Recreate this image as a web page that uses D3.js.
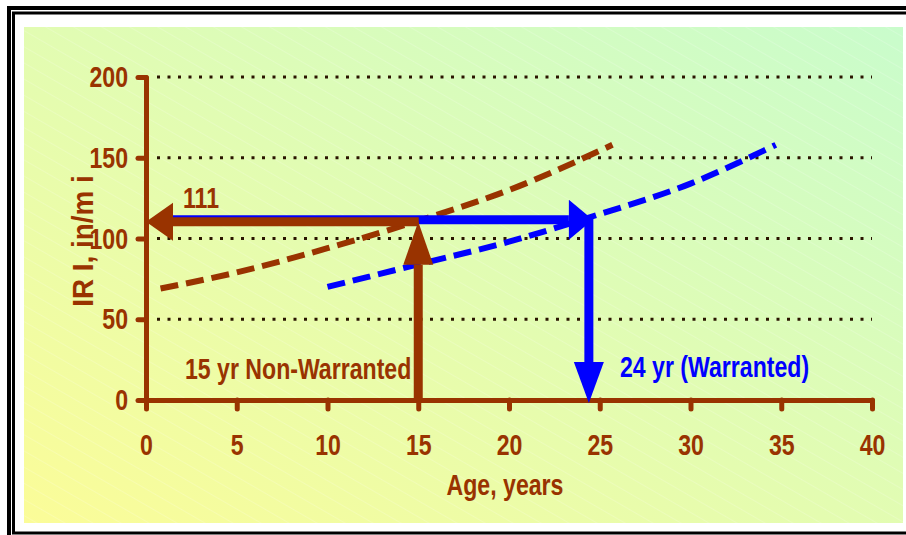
<!DOCTYPE html>
<html lang="en">
<head>
<meta charset="utf-8">
<title>IRI vs Age</title>
<script src="https://d3js.org/d3.v7.min.js"></script>
<style>
  body { margin: 0; background: #fff; }
  text { font-family: "Liberation Sans", Arial, sans-serif; font-weight: bold; }
</style>
</head>
<body>
<div id="chart"></div>
<script>
// chart values
var ageTicks = [0, 5, 10, 15, 20, 25, 30, 35, 40];
var iriTicks = [0, 50, 100, 150, 200];
var gridTicks = [50, 100, 150, 200];
var nonWarrAge = [0.8, 5, 10, 15, 20, 25.7];
var nonWarrIri = [69, 79, 94, 111, 130, 158];
var warrAge = [10, 15, 20, 24.4, 30, 34.7];
var warrIri = [70, 84, 98, 113, 134, 158];
var iriTrigger = 111;
var nonWarrLife = 15;
var warrLife = 24.4;

var W = 906, H = 535;
var brown = "#993300", blue = "#0000ff";
var fs = 30;
var narrow = 0.77;   // no narrow face installed, so squeeze horizontally

var svg = d3.select("#chart").append("svg")
  .attr("width", W).attr("height", H);

var defs = svg.append("defs");
var grad = defs.append("linearGradient").attr("id", "bg")
  .attr("x1", "0").attr("y1", "1").attr("x2", "1").attr("y2", "0");
grad.append("stop").attr("offset", "0").attr("stop-color", "#fbfc98");
grad.append("stop").attr("offset", "1").attr("stop-color", "#c9fccc");

// faint diagonal texture
var pat = defs.append("pattern").attr("id", "hatch")
  .attr("width", 14).attr("height", 14)
  .attr("patternUnits", "userSpaceOnUse")
  .attr("patternTransform", "rotate(30)");
pat.append("line").attr("x1", 0).attr("y1", 0).attr("x2", 14).attr("y2", 0)
  .attr("stroke", "#fff").attr("stroke-width", 1).attr("opacity", 0.35);

// frame
svg.append("rect").attr("x", 9).attr("y", 8).attr("width", 940).attr("height", 560)
  .attr("fill", "none").attr("stroke", "#000").attr("stroke-width", 4);
svg.append("rect").attr("x", 13.5).attr("y", 13).attr("width", 930).attr("height", 520)
  .attr("fill", "none").attr("stroke", "#000").attr("stroke-width", 3);
svg.append("rect").attr("x", 24).attr("y", 27).attr("width", 879).attr("height", 496)
  .attr("fill", "url(#bg)");
svg.append("rect").attr("x", 24).attr("y", 27).attr("width", 879).attr("height", 496)
  .attr("fill", "url(#hatch)");

var x = d3.scaleLinear().domain([0, 40]).range([146, 872]);
var y = d3.scaleLinear().domain([0, 200]).range([400, 77]);

// dotted gridlines
svg.append("g").selectAll("line").data(gridTicks).join("line")
  .attr("x1", x(0) + 11).attr("x2", x(40))
  .attr("y1", d => y(d)).attr("y2", d => y(d))
  .attr("stroke", "#2b1500").attr("stroke-width", 3)
  .attr("stroke-dasharray", "3 7.5");

// axes
var xAxis = svg.append("g").attr("transform", "translate(0," + y(0) + ")")
  .call(d3.axisBottom(x).tickValues(ageTicks).tickSize(9).tickSizeOuter(0).tickPadding(25));
var yAxis = svg.append("g").attr("transform", "translate(" + x(0) + ",0)")
  .call(d3.axisLeft(y).tickValues(iriTicks).tickSize(8).tickSizeOuter(0).tickPadding(18 / narrow - 8));

[xAxis, yAxis].forEach(function (g) {
  g.attr("font-family", null).attr("font-size", null);
  g.select(".domain").attr("stroke", brown).attr("stroke-width", 5).attr("stroke-linecap", "round");
  g.selectAll(".tick line").attr("stroke", brown).attr("stroke-width", 5).attr("stroke-linecap", "round");
  g.selectAll(".tick text").attr("fill", brown).attr("font-size", fs)
    .attr("transform", "scale(" + narrow + ",1)");
});

// curves
var line = d3.line().x(d => x(d[0])).y(d => y(d[1])).curve(d3.curveMonotoneX);
svg.append("path").datum(d3.zip(nonWarrAge, nonWarrIri))
  .attr("d", line).attr("fill", "none").attr("stroke", brown)
  .attr("stroke-width", 6).attr("stroke-dasharray", "18 8");
svg.append("path").datum(d3.zip(warrAge, warrIri))
  .attr("d", line).attr("fill", "none").attr("stroke", blue)
  .attr("stroke-width", 6).attr("stroke-dasharray", "18 8");

// arrows
function arrow(x1, y1, x2, y2, color, headLen, headHalf) {
  var ang = Math.atan2(y2 - y1, x2 - x1);
  var bx = x2 - headLen * Math.cos(ang), by = y2 - headLen * Math.sin(ang);
  svg.append("line").attr("x1", x1).attr("y1", y1).attr("x2", bx).attr("y2", by)
    .attr("stroke", color).attr("stroke-width", 9);
  var px = -Math.sin(ang) * headHalf, py = Math.cos(ang) * headHalf;
  svg.append("polygon")
    .attr("points", [[x2, y2], [bx + px, by + py], [bx - px, by - py]].map(p => p.join(",")).join(" "))
    .attr("fill", color);
}

// blue: across to warranted life, then down to the age axis
arrow(x(0) + 20, y(iriTrigger) - 1, x(warrLife) + 4, y(iriTrigger) - 1, blue, 24, 20);
arrow(x(warrLife), y(iriTrigger) - 5, x(warrLife), y(0) + 3, blue, 41, 15);
// brown: back to the IRI axis, and up from age 15
arrow(x(nonWarrLife) + 0.5, y(iriTrigger) + 1, x(0), y(iriTrigger) + 1, brown, 27, 19);
arrow(x(nonWarrLife), y(0), x(nonWarrLife), y(iriTrigger) + 1, brown, 43, 15);

// labels
function label(tx, ty, txt, color, anchor, rot, sx) {
  svg.append("text")
    .attr("transform", "translate(" + tx + "," + ty + ")" + (rot ? " rotate(" + rot + ")" : "") + " scale(" + (sx || narrow) + ",1)")
    .attr("text-anchor", anchor || "start")
    .attr("fill", color).attr("font-size", fs).text(txt);
}
label(201, 208, iriTrigger, brown, "middle");
label(185, 379, "15 yr Non-Warranted", brown);
label(620, 377, "24 yr (Warranted)", blue);
label(505, 495, "Age, years", brown, "middle");
label(93, 241, "IR I, in/m i", brown, "middle", -90, 0.93);
</script>
</body>
</html>
